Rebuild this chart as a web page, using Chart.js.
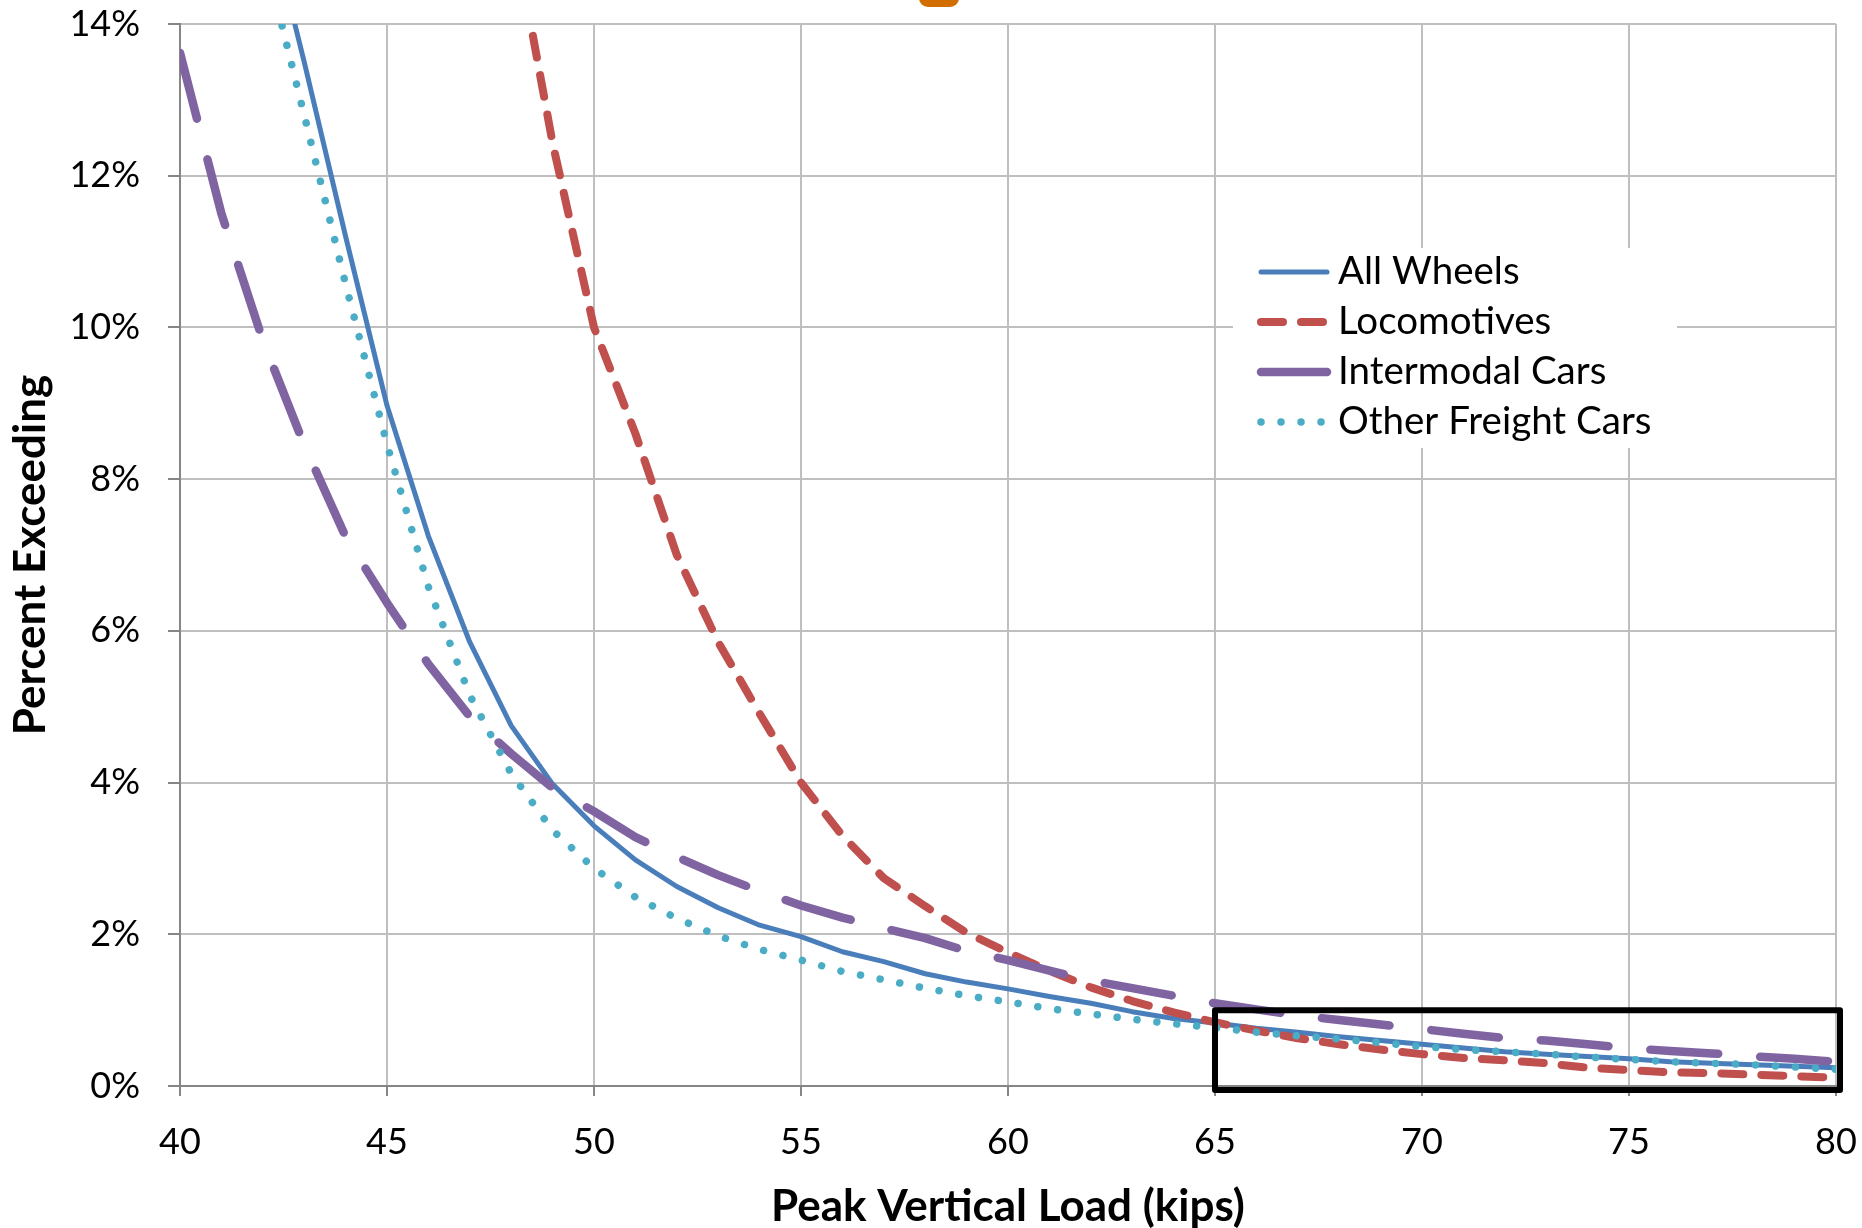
<!DOCTYPE html>
<html>
<head>
<meta charset="utf-8">
<title>Percent Exceeding vs Peak Vertical Load</title>
<script src="https://cdn.jsdelivr.net/npm/chart.js@4.4.1/dist/chart.umd.min.js"></script>
<style>
  html, body { margin: 0; padding: 0; background: #fff; }
  #wrap { width: 1862px; height: 1228px; }
</style>
</head>
<body>
<div id="wrap"><canvas id="chart" width="1862" height="1228"></canvas></div>
<script>
// Peak vertical wheel load (kips), one reading per kip
const LOADS = [
  40, 41, 42, 43, 44, 45, 46, 47, 48, 49,
  50, 51, 52, 53, 54, 55, 56, 57, 58, 59,
  60, 61, 62, 63, 64, 65, 66, 67, 68, 69,
  70, 71, 72, 73, 74, 75, 76, 77, 78, 79, 80,
];

// Percent of wheels exceeding each load
const ALL_WHEELS = [
  null, null, 15.7, 13.5, 11.2, 8.97, 7.25, 5.85, 4.75, 3.98,
  3.43, 2.98, 2.63, 2.35, 2.12, 1.97, 1.77, 1.64, 1.48, 1.37,
  1.28, 1.18, 1.09, 0.98, 0.89, 0.83, 0.76, 0.71, 0.65, 0.60,
  0.55, 0.50, 0.45, 0.42, 0.39, 0.36, 0.32, 0.30, 0.28, 0.26, 0.24,
];
const LOCOMOTIVES = [
  null, null, null, null, null, null, null, null, 15.4, 12.43,
  10.0, 8.6, 7.0, 5.85, 4.91, 4.0, 3.30, 2.74, 2.37, 2.02,
  1.76, 1.52, 1.30, 1.12, 0.97, 0.84, 0.73, 0.63, 0.55, 0.48,
  0.42, 0.37, 0.34, 0.30, 0.24, 0.21, 0.18, 0.17, 0.15, 0.13, 0.11,
];
const INTERMODAL = [
  13.62, 11.5, 9.83, 8.45, 7.24, 6.37, 5.56, 4.87, 4.38, 3.93,
  3.62, 3.28, 3.02, 2.78, 2.57, 2.38, 2.22, 2.08, 1.95, 1.78,
  1.66, 1.52, 1.39, 1.29, 1.19, 1.09, 1.01, 0.93, 0.87, 0.81,
  0.75, 0.69, 0.63, 0.60, 0.55, 0.50, 0.46, 0.43, 0.39, 0.36, 0.32,
];
const OTHER_FREIGHT = [
  null, null, 15.0, 12.8, 10.57, 8.46, 6.58, 5.15, 4.12, 3.37,
  2.87, 2.49, 2.21, 1.98, 1.80, 1.66, 1.51, 1.40, 1.29, 1.19,
  1.11, 1.02, 0.95, 0.88, 0.82, 0.77, 0.71, 0.66, 0.62, 0.57,
  0.52, 0.48, 0.45, 0.42, 0.38, 0.35, 0.32, 0.30, 0.28, 0.25, 0.22,
];

const SERIES_NAMES = ["All Wheels", "Locomotives", "Intermodal Cars", "Other Freight Cars"];
const X_TICKS = [40, 45, 50, 55, 60, 65, 70, 75, 80];
const Y_TICKS = [0, 2, 4, 6, 8, 10, 12, 14];

// high-load tail that gets boxed
const BOX_LOADS = [65, 80];
const BOX_PERCENT = [0, 1];

const FONT = "Lato, 'Open Sans', sans-serif";
const GRID = "#BFBFBF";
const AXIS = "#868686";

function points(values) {
  return LOADS.map((x, i) => ({ x, y: values[i] }));
}

function series(i, values, color, width, dash, order) {
  return {
    label: SERIES_NAMES[i],
    data: points(values),
    borderColor: color,
    backgroundColor: color,
    borderWidth: width,
    borderDash: dash,
    borderCapStyle: "round",
    borderJoinStyle: "round",
    pointRadius: 0,
    tension: 0,
    fill: false,
    order,
  };
}

// white legend box sitting on top of the grid
const insetLegend = {
  id: "insetLegend",
  afterDatasetsDraw(chart, args, opts) {
    const { ctx } = chart;
    ctx.save();
    ctx.fillStyle = "#fff";
    ctx.fillRect(opts.left, opts.top, opts.width, opts.height);
    chart.data.datasets.forEach((ds, i) => {
      const y = opts.top + opts.firstRow + i * opts.rowGap;
      ctx.beginPath();
      ctx.strokeStyle = ds.borderColor;
      ctx.lineWidth = ds.borderWidth;
      ctx.lineCap = "round";
      ctx.setLineDash(ds.borderDash);
      ctx.moveTo(opts.left + opts.sampleStart, y);
      ctx.lineTo(opts.left + opts.sampleEnd, y);
      ctx.stroke();
      ctx.setLineDash([]);
      ctx.fillStyle = "#000";
      ctx.font = `${opts.fontSize}px ${FONT}`;
      ctx.textBaseline = "middle";
      ctx.textAlign = "left";
      ctx.fillText(ds.label, opts.left + opts.textStart, y);
    });
    ctx.restore();
  },
};

// black outline around the 65-80 kip tail
const tailBox = {
  id: "tailBox",
  afterDatasetsDraw(chart) {
    const { ctx, scales: { x, y } } = chart;
    const l = x.getPixelForValue(BOX_LOADS[0]);
    const r = x.getPixelForValue(BOX_LOADS[1]) + 4;
    const t = y.getPixelForValue(BOX_PERCENT[1]);
    const b = y.getPixelForValue(BOX_PERCENT[0]) + 4;
    ctx.save();
    ctx.strokeStyle = "#000";
    ctx.lineWidth = 6;
    ctx.lineJoin = "round";
    ctx.strokeRect(l, t, r - l, b - t);
    ctx.restore();
  },
};

// orange tab poking in at the top edge
const topTab = {
  id: "topTab",
  afterDraw(chart) {
    const { ctx } = chart;
    ctx.save();
    ctx.fillStyle = "#D26E00";
    ctx.beginPath();
    ctx.roundRect(919, -20, 40, 27, 9);
    ctx.fill();
    ctx.restore();
  },
};

Chart.defaults.font.family = FONT;
Chart.defaults.color = "#000";

new Chart(document.getElementById("chart"), {
  type: "line",
  data: {
    datasets: [
      series(0, ALL_WHEELS, "#4A7EBB", 5, [], 3),
      series(1, LOCOMOTIVES, "#C0504D", 8, [22, 18], 2),
      series(2, INTERMODAL, "#8064A2", 8.5, [68, 42], 1),
      series(3, OTHER_FREIGHT, "#4BACC6", 7.5, [0.01, 20], 0),
    ],
  },
  options: {
    responsive: false,
    animation: false,
    devicePixelRatio: 1,
    spanGaps: false,
    layout: { padding: { top: 24, right: 26, left: 0, bottom: 0 } },
    plugins: {
      legend: { display: false },
      tooltip: { enabled: false },
      insetLegend: {
        left: 1233, top: 248, width: 444, height: 200,
        firstRow: 24, rowGap: 50,
        sampleStart: 28, sampleEnd: 94, textStart: 105,
        fontSize: 38.5,
      },
    },
    scales: {
      x: {
        type: "linear",
        min: 40,
        max: 80,
        afterBuildTicks: (scale) => { scale.ticks = X_TICKS.map((v) => ({ value: v })); },
        afterFit: (scale) => {
          scale.height = 142;
          scale.paddingLeft = 0;
          scale.paddingRight = 0;
        },
        grid: { color: GRID, lineWidth: 2, tickColor: AXIS, tickLength: 10 },
        border: { color: AXIS, width: 2 },
        ticks: { font: { size: 36, lineHeight: 1.2 }, padding: 25, color: "#000" },
        title: {
          display: true,
          text: "Peak Vertical Load (kips)",
          font: { size: 44, weight: "bold", lineHeight: 0.96 },
          padding: 0,
          color: "#000",
        },
      },
      y: {
        type: "linear",
        min: 0,
        max: 14,
        afterBuildTicks: (scale) => { scale.ticks = Y_TICKS.map((v) => ({ value: v })); },
        afterFit: (scale) => {
          scale.width = 180;
          scale.paddingTop = 0;
          scale.paddingBottom = 0;
        },
        grid: { color: GRID, lineWidth: 2, tickColor: AXIS, tickLength: 12 },
        border: { color: AXIS, width: 2 },
        ticks: {
          font: { size: 36, lineHeight: 1.2 },
          padding: 28,
          color: "#000",
          callback: (v) => v + "%",
        },
        title: {
          display: true,
          text: "Percent Exceeding",
          font: { size: 44, weight: "bold", lineHeight: 1.07 },
          padding: { top: 7, bottom: 0 },
          color: "#000",
        },
      },
    },
  },
  plugins: [insetLegend, tailBox, topTab],
});
</script>
</body>
</html>
